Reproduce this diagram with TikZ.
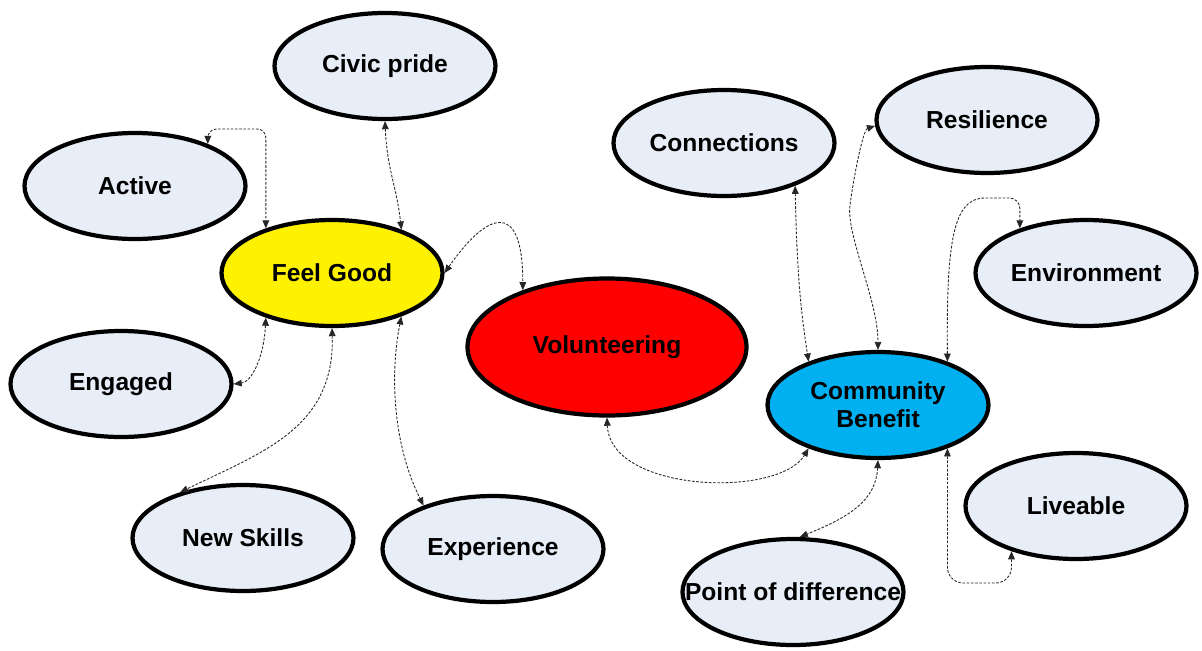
\documentclass[tikz,border=0pt]{standalone}
\usepackage{fontspec}
\setmainfont{Liberation Sans}
\usepackage{tikz}
\usetikzlibrary{arrows.meta,shapes.geometric}

\definecolor{ideafill}{HTML}{E8EEF8}
\definecolor{benefitblue}{HTML}{00B0F0}

\begin{document}
\begin{tikzpicture}[x=0.2mm,y=-0.2mm,
        idea/.style={ellipse,draw=black,line width=2.4pt,fill=ideafill,
            minimum width=4.42cm,minimum height=2.12cm,inner sep=0pt,
            font=\bfseries\fontsize{14}{16}\selectfont,align=center},
        link/.style={<->,>={Triangle[length=4.6pt,width=3.8pt]},line width=0.5pt,
            black!85,dash pattern=on 1.5pt off 0.9pt}]
    \useasboundingbox (0,0) rectangle (1202,650);

    % left group
    \node[idea] (civic) at (385,66) {Civic pride};
    \node[idea] (active) at (135,186) {Active};
    \node[idea,fill=yellow] (feel) at (332,273) {Feel Good};
    \node[idea] (engaged) at (121,384) {Engaged};
    \node[idea] (skills) at (243,538) {New Skills};
    \node[idea] (experience) at (493,549) {Experience};

    \node[idea,fill=red,minimum width=5.58cm,minimum height=2.74cm] (volunteer) at (607,347) {Volunteering};

    % right group
    \node[idea] (connect) at (724,143) {Connections};
    \node[idea] (resilience) at (987,120) {Resilience};
    \node[idea] (environment) at (1086,273) {Environment};
    \node[idea,fill=benefitblue] (community) at (878,405) {Community\\Benefit};
    \node[idea] (liveable) at (1076,506) {Liveable};
    \node[idea] (difference) at (793,592) {\makebox[0pt]{Point of difference}};

    \draw[link,rounded corners=5pt] (active.30) -- (active.30 |- 0,129) -| (feel.146);
    \draw[link] (civic.south) .. controls +(2,48) and +(-5,-44) .. (feel.32);
    \draw[link] (feel.east) .. controls +(40,-58) and +(0,-95) .. (volunteer.146);
    \draw[link] (feel.214) .. controls +(-2,40) and +(18,-2) .. (engaged.east);
    \draw[link] (feel.south) .. controls +(3,100) and +(82,-40) .. (skills.144);
    \draw[link] (feel.-32) .. controls +(-12,60) and +(-30,-60) .. (experience.148);

    \draw[link] (volunteer.south) .. controls +(3,75) and +(-30,50) .. (community.212);
    \draw[link] (connect.-31) .. controls +(2,100) and +(-6,-40) .. (community.148);
    \draw[link] (resilience.183) .. controls +(-12,4) and +(4,-30) .. (850,205)
                                 .. controls +(-4,30) and +(0,-50) .. (community.north);
    \draw[link] (community.32) .. controls +(-1,-120) and +(-32,0) .. (985,198)
                [rounded corners=6pt] -| (environment.146);
    \draw[link,rounded corners=9pt] (community.-32) -- (community.-32 |- 0,583) -| (liveable.215);
    \draw[link] (community.south) .. controls +(-2,40) and +(50,-20) .. (difference.83);
\end{tikzpicture}
\end{document}
